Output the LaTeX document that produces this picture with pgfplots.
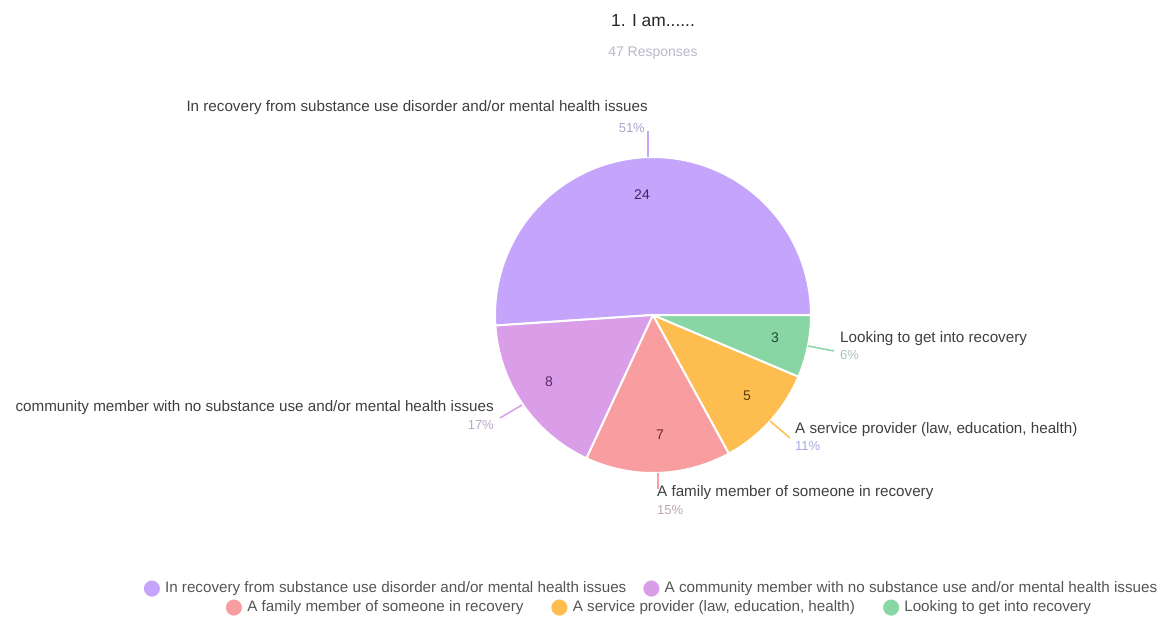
\documentclass[border=0pt]{standalone}
\usepackage{fontspec}
\setmainfont{Liberation Sans}
\newfontfamily\symfont{DejaVu Sans}
\usepackage{pgfplots}
\pgfplotsset{compat=1.18}
\definecolor{cA}{HTML}{C4A5FB}
\definecolor{cB}{HTML}{DA9DE7}
\definecolor{cC}{HTML}{F89DA0}
\definecolor{cD}{HTML}{FDBD4F}
\definecolor{cE}{HTML}{88D6A4}
\definecolor{dA}{HTML}{3A2868}
\definecolor{dB}{HTML}{5B2860}
\definecolor{dC}{HTML}{6A2A2C}
\definecolor{dD}{HTML}{5C3F0E}
\definecolor{dE}{HTML}{1E4D33}
\definecolor{pA}{HTML}{A9A3CF}
\definecolor{pB}{HTML}{B9A6C9}
\definecolor{pC}{HTML}{BBA9AD}
\definecolor{pD}{HTML}{A6AADF}
\definecolor{pE}{HTML}{A9C4B6}
\definecolor{txt}{HTML}{3F3F3F}
\definecolor{lgt}{HTML}{555555}
\definecolor{sub}{HTML}{B8B8C8}
% slice: start (cumulative count), count, colour ; total 47 responses
\newcommand{\slice}[3]{%
  \addplot[fill=#3, draw=white, line width=2pt, line join=round,
    domain=#1*360/47:(#1+#2)*360/47, samples=90, variable=\t]
    ({653+158*cos(\t)},{315-158*sin(\t)}) -- (653,315) -- cycle;
}
\newcommand{\lgd}[1]{{\symfont\fontsize{21}{21}\selectfont\raisebox{-1.5pt}{\textcolor{#1}{●}}}\hspace{4pt}}
\newcommand{\lab}{\fontsize{15.2}{18}\selectfont}
\newcommand{\pct}{\fontsize{13}{15}\selectfont}
\begin{document}
\begin{tikzpicture}
\begin{axis}[scale only axis, width=1166pt, height=618pt,
  xmin=0, xmax=1166, ymin=0, ymax=618, y dir=reverse,
  axis line style={draw=none}, xtick=\empty, ytick=\empty, clip=false]
% counts: 24, 8, 7, 5, 3
\slice{0}{24}{cA}
\slice{24}{8}{cB}
\slice{32}{7}{cC}
\slice{39}{5}{cD}
\slice{44}{3}{cE}
% leader lines
\addplot[cA, line width=1.5pt] coordinates {(648,157) (648,131)};
\addplot[cB, line width=1.5pt] coordinates {(522,405) (500,418)};
\addplot[cC, line width=1.5pt] coordinates {(658,473) (658,489)};
\addplot[cD, line width=1.5pt] coordinates {(770,421) (790,438)};
\addplot[cE, line width=1.5pt] coordinates {(808,346) (834,351)};
% inner values
\node[font=\fontsize{14}{16}\selectfont, text=dA] at (642,195) {24};
\node[font=\fontsize{14}{16}\selectfont, text=dB] at (549,382) {8};
\node[font=\fontsize{14}{16}\selectfont, text=dC] at (660,435) {7};
\node[font=\fontsize{14}{16}\selectfont, text=dD] at (747,396) {5};
\node[font=\fontsize{14}{16}\selectfont, text=dE] at (775,338) {3};
% outside labels
\node[font=\lab, text=txt, anchor=east, inner sep=0] at (648,108) {In recovery from substance use disorder and/or mental health issues};
\node[font=\pct, text=pA, anchor=east, inner sep=0] at (645,128) {51\%};
\node[font=\lab, text=txt, anchor=east, inner sep=0] at (494,408) {community member with no substance use and/or mental health issues};
\node[font=\pct, text=pB, anchor=east, inner sep=0] at (494,425) {17\%};
\node[font=\lab, text=txt, anchor=west, inner sep=0] at (657,493) {A family member of someone in recovery};
\node[font=\pct, text=pC, anchor=west, inner sep=0] at (657,510) {15\%};
\node[font=\lab, text=txt, anchor=west, inner sep=0] at (795,430) {A service provider (law, education, health)};
\node[font=\pct, text=pD, anchor=west, inner sep=0] at (795,446) {11\%};
\node[font=\lab, text=txt, anchor=west, inner sep=0] at (840,339) {Looking to get into recovery};
\node[font=\pct, text=pE, anchor=west, inner sep=0] at (840,355) {6\%};
% title
\node[font=\fontsize{17.4}{20}\selectfont, text=black!85] at (653,21) {1. I am......};
\node[font=\fontsize{14}{16}\selectfont, text=sub] at (653,53) {47 Responses};
% legend
\node[font=\lab, text=lgt, inner sep=0] at (650,589) {\lgd{cA}In recovery from substance use disorder and/or mental health issues\hspace{16pt}\lgd{cB}A community member with no substance use and/or mental health issues};
\node[font=\lab, text=lgt, inner sep=0] at (658,608) {\lgd{cC}A family member of someone in recovery\hspace{27pt}\lgd{cD}A service provider (law, education, health)\hspace{27pt}\lgd{cE}Looking to get into recovery};
\end{axis}
\end{tikzpicture}
\end{document}
